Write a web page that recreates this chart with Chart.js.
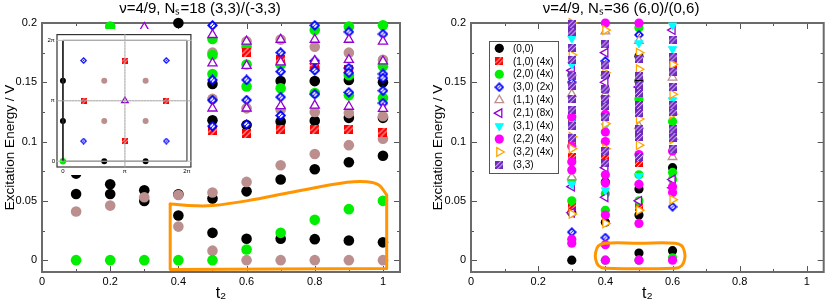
<!DOCTYPE html>
<html>
<head>
<meta charset="utf-8">
<script src="https://cdn.jsdelivr.net/npm/chart.js@4"></script>
<style>
html, body { margin: 0; padding: 0; background: #fff; }
#wrap { position: relative; width: 830px; height: 307px; }
canvas { position: absolute; }
#left { left: 0; top: 0; }
#right { left: 415px; top: 0; }
#inset { left: 47px; top: 29px; background: #fff; }
</style>
</head>
<body>
<div id="wrap">
  <canvas id="left" width="415" height="307"></canvas>
  <canvas id="right" width="415" height="307"></canvas>
  <canvas id="inset" width="149" height="146"></canvas>
</div>
<script>
// axis ticks
const xTicks = [0, 0.2, 0.4, 0.6, 0.8, 1];
const xMinorTicks = [0.1, 0.3, 0.5, 0.7, 0.9];
const yTicks = [0, 0.05, 0.1, 0.15, 0.2];
const yMinorTicks = [0.025, 0.075, 0.125, 0.175];

const leftTitle = 'ν=4/9, Nₛ=18 (3,3)/(-3,3)';
const rightTitle = 'ν=4/9, Nₛ=36 (6,0)/(0,6)';
const yTitle = 'Excitation Energy / V';
const xTitle = 't₂';

// left panel, [t2, energy]
const leftBlack = [[0.1,0.073],[0.1,0.0558],[0.2,0.064],[0.2,0.0558],[0.3,0.0589],[0.3,0.0499],
  [0.4,0.2],[0.4,0.0555],[0.4,0.0376],[0.5,0.1485],[0.5,0.118],[0.5,0.052],[0.5,0.023],
  [0.6,0.114],[0.6,0.058],[0.6,0.018],[0.7,0.151],[0.7,0.117],[0.7,0.068],[0.7,0.018],
  [0.8,0.151],[0.8,0.1175],[0.8,0.0766],[0.8,0.0177],[0.9,0.152],[0.9,0.120],[0.9,0.0825],[0.9,0.0166],
  [1.0,0.150],[1.0,0.120],[1.0,0.088],[1.0,0.015]];
const leftBrown = [[0.1,0.041],[0.2,0.046],[0.3,0.053],[0.4,0.055],[0.4,0.0283],
  [0.5,0.175],[0.5,0.136],[0.5,0.057],[0.5,0.008],[0.6,0.1845],[0.6,0.128],[0.6,0.066],[0.6,0],
  [0.7,0.186],[0.7,0.127],[0.7,0.080],[0.7,0],[0.8,0.180],[0.8,0.125],[0.8,0.0895],[0.8,0],
  [0.9,0.175],[0.9,0.124],[0.9,0.097],[0.9,0],[1.0,0.169],[1.0,0.1214],[1.0,0.1024],[1.0,0]];
const leftGreen = [[0.1,0],[0.2,0.197],[0.2,0],[0.3,0],[0.4,0],
  [0.5,0.1865],[0.5,0.173],[0.5,0.157],[0.5,0],[0.6,0.180],[0.6,0.165],[0.6,0.1465],[0.6,0.009],
  [0.7,0.165],[0.7,0.145],[0.7,0.023],[0.8,0.194],[0.8,0.162],[0.8,0.141],[0.8,0.034],
  [0.9,0.197],[0.9,0.156],[0.9,0.139],[0.9,0.043],[1.0,0.198],[1.0,0.1635],[1.0,0.1367],[1.0,0.050]];
const leftRed = [[0.5,0.109],[0.6,0.1755],[0.6,0.107],[0.7,0.169],[0.7,0.1105],
  [0.8,0.165],[0.8,0.1105],[0.9,0.161],[0.9,0.1105],[1.0,0.108]];
const leftBlue = [[0.5,0.198],[0.5,0.152],[0.5,0.135],[0.5,0.113],[0.6,0.152],[0.6,0.135],[0.6,0.1145],
  [0.7,0.175],[0.7,0.159],[0.7,0.1375],[0.7,0.122],[0.8,0.198],[0.8,0.168],[0.8,0.160],[0.8,0.140],
  [0.9,0.1925],[0.9,0.162],[0.9,0.158],[0.9,0.1415],[1.0,0.1907],[1.0,0.157],[1.0,0.1536],[1.0,0.1429],[1.0,0.1325]];
const leftPurple = [[0.3,0.196],[0.5,0.190],[0.5,0.166],[0.5,0.128],[0.6,0.1845],[0.6,0.164],[0.6,0.128],
  [0.7,0.186],[0.7,0.167],[0.7,0.130],[0.8,0.186],[0.8,0.168],[0.8,0.1305],
  [0.9,0.186],[0.9,0.169],[0.9,0.1295],[1.0,0.1845],[1.0,0.1677],[1.0,0.1277]];
// orange outline, left panel
const leftCurve = [[0.376,0.0473],[0.45,0.0458],[0.5,0.046],[0.6,0.050],[0.74,0.0577],[0.895,0.0656],
  [0.953,0.0661],[0.988,0.0633],[1.011,0.055]];
const leftEdge = [[1.011,0.055],[1.011,-0.007],[0.376,-0.0079],[0.376,0.0473]];

// inset (momentum positions, units of pi)
const insetTicks = [0, 1, 2];
const insetTickLabels = ['0', 'π', '2π'];
const insetBlack = [[0,2/3],[0,4/3],[2/3,0],[4/3,0]];
const insetBrown = [[2/3,2/3],[2/3,4/3],[4/3,2/3],[4/3,4/3]];
const insetRed = [[1/3,1],[5/3,1],[1,1/3],[1,5/3]];
const insetBlue = [[1/3,1/3],[1/3,5/3],[5/3,1/3],[5/3,5/3]];
const insetPurple = [[1,1]];
const insetGreen = [[0,0]];
const insetBox = [[0,0],[2,0],[2,2],[0,2],[0,0]];
const insetGrayH = [[[-0.1,0],[2.07,0]],[[-0.1,2],[2.07,2]]];
const insetDashed = [[[1,-0.1],[1,2.1]],[[-0.1,1],[2.07,1]]];

// right panel, [t2, energy]
const rightLabels = ['(0,0)','(1,0) (4x)','(2,0) (4x)','(3,0) (2x)','(1,1) (4x)','(2,1) (8x)','(3,1) (4x)','(2,2) (4x)','(3,2) (4x)','(3,3)'];
const r00 = [[0.3,0],[0.3,0.040],[0.4,0.032],[0.4,0.066],[0.4,0.156],[0.5,0.006],[0.5,0.038],[0.5,0.060],
  [0.5,0.151],[0.5,0.172],[0.6,0.008],[0.6,0.078]];
const r10 = [[0.3,0.045],[0.3,0.087],[0.3,0.099],[0.3,0.116],[0.3,0.193],[0.4,0.087],[0.4,0.130],
  [0.5,0.045],[0.5,0.082],[0.6,0.107],[0.6,0.165]];
const r20 = [[0.3,0.050],[0.3,0.068],[0.4,0],[0.4,0.042],[0.4,0.056],[0.5,0],[0.5,0.050],[0.5,0.072],
  [0.5,0.136],[0.5,0.196],[0.6,0.002],[0.6,0.068],[0.6,0.074],[0.6,0.117]];
const r30 = [[0.3,0.0236],[0.3,0.150],[0.4,0.019],[0.4,0.168],[0.5,0.190],[0.6,0.045]];
const r11 = [[0.3,0.070],[0.3,0.140],[0.4,0.140],[0.4,0.193],[0.5,0.113],[0.5,0.185],[0.6,0.087],[0.6,0.154]];
const r21 = [[0.3,0.040],[0.3,0.062],[0.3,0.160],[0.4,0.053],[0.4,0.078],[0.4,0.150],[0.4,0.175],
  [0.5,0.050],[0.5,0.146],[0.6,0.061],[0.6,0.068],[0.6,0.194]];
const r31 = [[0.3,0.064],[0.3,0.118],[0.3,0.165],[0.3,0.187],[0.4,0.059],[0.4,0.113],[0.5,0.071],
  [0.5,0.183],[0.6,0.135],[0.6,0.178],[0.6,0.198]];
const r22 = [[0.3,0.0143],[0.3,0.0177],[0.3,0.076],[0.3,0.083],[0.3,0.096],[0.3,0.121],[0.3,0.156],
  [0.4,0],[0.4,0.013],[0.4,0.038],[0.4,0.065],[0.4,0.072],[0.4,0.100],[0.4,0.108],[0.4,0.123],[0.4,0.144],[0.4,0.2],
  [0.5,0],[0.5,0.031],[0.5,0.064],[0.5,0.089],[0.5,0.2],[0.6,0],[0.6,0.057],[0.6,0.062],[0.6,0.092]];
const r32 = [[0.3,0.039],[0.3,0.094],[0.3,0.104],[0.3,0.173],[0.3,0.2],[0.4,0.031],[0.4,0.094],[0.4,0.115],
  [0.4,0.158],[0.4,0.194],[0.5,0.042],[0.5,0.097],[0.5,0.119],[0.5,0.161],[0.5,0.175],
  [0.6,0.051],[0.6,0.102],[0.6,0.123],[0.6,0.140],[0.6,0.165]];
const r33 = [[0.3,0.103],[0.3,0.113],[0.3,0.127],[0.3,0.136],[0.3,0.147],[0.3,0.155],[0.3,0.169],[0.3,0.179],
  [0.3,0.192],[0.3,0.199],[0.4,0.082],[0.4,0.092],[0.4,0.121],[0.4,0.130],[0.4,0.136],[0.4,0.144],[0.4,0.156],
  [0.4,0.165],[0.4,0.182],[0.5,0.087],[0.5,0.104],[0.5,0.111],[0.5,0.124],[0.5,0.131],[0.5,0.141],[0.5,0.148],
  [0.5,0.155],[0.5,0.170],[0.6,0.094],[0.6,0.103],[0.6,0.111],[0.6,0.125],[0.6,0.131],[0.6,0.146],[0.6,0.159],
  [0.6,0.171],[0.6,0.186]];
// orange rounded box, right panel
const rightOutline = [[0.5,0.0143],[0.608,0.0143],[0.6278,0.012],[0.636,0.0065],[0.636,0.001],[0.6278,-0.0045],
  [0.608,-0.0068],[0.399,-0.0068],[0.3792,-0.0045],[0.371,0.001],[0.371,0.0065],[0.3792,0.012],[0.399,0.0143],[0.5,0.0143]];

// colours
const BLACK = '#000000', RED = '#ff0000', GREEN = '#00ee00', BLUE = '#0000ff', BROWN = '#bc8f8f',
  VIOLET = '#9400d3', CYAN = '#00ffff', MAGENTA = '#ff00ff', ORANGE = '#ffa500', INDIGO = '#7029bd',
  OUTLINE = '#ff9500';

Chart.defaults.font.family = '"Liberation Sans", Arial, sans-serif';
Chart.defaults.color = '#000';

// marker images (hatched symbols)
function hatchSquare(color, s) {
  const c = document.createElement('canvas');
  c.width = c.height = s;
  const g = c.getContext('2d');
  g.fillStyle = color;
  g.fillRect(0, 0, s, s);
  g.strokeStyle = '#fff';
  g.lineWidth = Math.max(0.8, s / 9);
  g.beginPath();
  [0.72, 1.28].forEach(k => { g.moveTo(0, k * s); g.lineTo(k * s, 0); });
  g.stroke();
  return c;
}
function hatchDiamond(color, s) {
  const c = document.createElement('canvas');
  c.width = c.height = s;
  const g = c.getContext('2d');
  const h = s / 2, i = s * 0.24;
  g.fillStyle = color;
  g.beginPath(); g.moveTo(h, 0); g.lineTo(s, h); g.lineTo(h, s); g.lineTo(0, h); g.closePath(); g.fill();
  g.fillStyle = '#fff';
  g.beginPath(); g.moveTo(h, i); g.lineTo(s - i, h); g.lineTo(h, s - i); g.lineTo(i, h); g.closePath(); g.fill();
  g.strokeStyle = color; g.lineWidth = 1;
  g.beginPath(); g.moveTo(h - s * 0.13, h + s * 0.13); g.lineTo(h + s * 0.13, h - s * 0.13); g.stroke();
  return c;
}

const circle = (c, r) => ({pointStyle: 'circle', pointRadius: r, pointBackgroundColor: c, pointBorderColor: c, pointBorderWidth: 0});
const image = img => ({pointStyle: img, pointRadius: img.width / 2, pointBorderWidth: 0});
const openTri = (c, r, rot) => ({pointStyle: 'triangle', pointRadius: r, pointRotation: rot, pointBackgroundColor: '#fff', pointBorderColor: c, pointBorderWidth: 1.3});
const fullTri = (c, r, rot) => ({pointStyle: 'triangle', pointRadius: r, pointRotation: rot, pointBackgroundColor: c, pointBorderColor: c, pointBorderWidth: 1});

const toXY = a => a.map(([x, y]) => ({x, y}));
const toXYpi = a => a.map(([x, y]) => ({x: x * Math.PI, y: y * Math.PI}));

function markers(data, style, order) {
  return Object.assign({data: data, order: order, clip: false, showLine: false, pointHoverRadius: 0}, style);
}
function outline(data, tension, color, width, dash) {
  return {data: data, showLine: true, borderColor: color, borderWidth: width, borderDash: dash || [],
    pointRadius: 0, tension: tension, order: 0, clip: false, fill: false, borderJoinStyle: 'round', borderCapStyle: 'round'};
}

// frame + inward ticks
const frameTicks = {
  id: 'frameTicks',
  beforeDatasetsDraw(chart, args, opts) {
    const {ctx, chartArea: a, scales: {x, y}} = chart;
    ctx.save();
    ctx.strokeStyle = opts.tickColor || '#555';
    ctx.lineWidth = 1;
    ctx.beginPath();
    const xs = (vals, len) => vals.forEach(v => {
      const p = Math.round(x.getPixelForValue(v)) + 0.5;
      ctx.moveTo(p, a.bottom); ctx.lineTo(p, a.bottom - len);
      ctx.moveTo(p, a.top); ctx.lineTo(p, a.top + len);
    });
    const ys = (vals, len) => vals.forEach(v => {
      const p = Math.round(y.getPixelForValue(v)) + 0.5;
      ctx.moveTo(a.left, p); ctx.lineTo(a.left + len, p);
      ctx.moveTo(a.right, p); ctx.lineTo(a.right - len, p);
    });
    xs(opts.xMajor || [], 6); xs(opts.xMinor || [], 3);
    ys(opts.yMajor || [], 6); ys(opts.yMinor || [], 3);
    ctx.stroke();
    ctx.strokeStyle = opts.color;
    ctx.lineWidth = opts.width;
    ctx.strokeRect(a.left, a.top, a.right - a.left, a.bottom - a.top);
    ctx.restore();
  }
};

// legend box inside the right plot
const boxLegend = {
  id: 'boxLegend',
  afterDraw(chart, args, opts) {
    if (!opts.labels) return;
    const {ctx, chartArea: a} = chart;
    const x0 = a.left + opts.left, y0 = a.top + opts.top;
    ctx.save();
    ctx.fillStyle = '#fff';
    ctx.fillRect(x0, y0, opts.width, opts.height);
    ctx.strokeStyle = '#555';
    ctx.lineWidth = 1;
    ctx.strokeRect(x0 + 0.5, y0 + 0.5, opts.width, opts.height);
    ctx.font = '10px "Liberation Sans", Arial, sans-serif';
    ctx.textBaseline = 'middle';
    ctx.textAlign = 'left';
    opts.labels.forEach((text, i) => {
      const st = opts.styles[i];
      const cy = y0 + opts.firstRow + i * opts.rowStep;
      ctx.fillStyle = st.pointBackgroundColor || '#000';
      ctx.strokeStyle = st.pointBorderColor || '#000';
      ctx.lineWidth = st.pointBorderWidth || 0;
      Chart.helpers.drawPoint(ctx, {pointStyle: st.pointStyle, radius: st.pointRadius,
        rotation: st.pointRotation || 0, borderWidth: st.pointBorderWidth || 0}, x0 + opts.markerX, cy);
      ctx.fillStyle = '#000';
      ctx.fillText(text, x0 + opts.textX, cy + 0.5);
    });
    ctx.restore();
  }
};

function mainScales(yWidth, yTitlePad) {
  return {
    x: {
      type: 'linear', min: 0, max: 1.05,
      grid: {display: false, drawTicks: false}, border: {display: false},
      afterBuildTicks: s => { s.ticks = xTicks.map(v => ({value: v})); },
      ticks: {font: {size: 11}, padding: 3, autoSkip: false, maxRotation: 0, callback: v => String(v)},
      title: {display: true, text: xTitle, font: {size: 16}, padding: {top: 0, bottom: 4}},
      afterFit: s => { s.height = 35; }
    },
    y: {
      type: 'linear', min: -0.01, max: 0.2,
      grid: {display: false, drawTicks: false}, border: {display: false},
      afterBuildTicks: s => { s.ticks = yTicks.map(v => ({value: v})); },
      ticks: {font: {size: 11}, padding: 5, autoSkip: false, callback: v => String(v)},
      title: {display: true, text: yTitle, font: {size: 13.5}, padding: {top: yTitlePad, bottom: 0}},
      afterFit: s => { s.width = yWidth; }
    }
  };
}
function mainPlugins(title, legendOpts) {
  return {
    legend: {display: false}, tooltip: {enabled: false},
    title: {display: true, text: title, font: {size: 15, weight: 'normal'}, padding: {top: 0, bottom: 5}},
    frameTicks: {color: '#6a6a6a', width: 2, xMajor: xTicks, xMinor: xMinorTicks, yMajor: yTicks, yMinor: yMinorTicks},
    boxLegend: legendOpts || {}
  };
}

// left panel
const L = {
  black: circle(BLACK, 5.3), brown: circle(BROWN, 5.3), green: circle(GREEN, 5.3),
  red: image(hatchSquare(RED, 9)), blue: image(hatchDiamond(BLUE, 11)), purple: openTri(VIOLET, 5.3, 0)
};
new Chart(document.getElementById('left'), {
  type: 'scatter',
  data: {datasets: [
    outline(toXY(leftCurve), 0.4, OUTLINE, 3),
    outline(toXY(leftEdge), 0, OUTLINE, 3),
    markers(toXY(leftPurple), L.purple, 1),
    markers(toXY(leftBlue), L.blue, 2),
    markers(toXY(leftRed), L.red, 3),
    markers(toXY(leftGreen), L.green, 4),
    markers(toXY(leftBrown), L.brown, 5),
    markers(toXY(leftBlack), L.black, 6)
  ]},
  options: {
    animation: false, responsive: false, events: [],
    layout: {padding: {left: 0, right: 15, top: 0, bottom: 0}},
    plugins: mainPlugins(leftTitle),
    scales: mainScales(42, 2.2)
  },
  plugins: [frameTicks, boxLegend]
});

// right panel
const rightStyles = [
  circle(BLACK, 4.6), image(hatchSquare(RED, 8)), circle(GREEN, 4.6), image(hatchDiamond(BLUE, 10)),
  openTri(BROWN, 5, 0), openTri(VIOLET, 5, -90), fullTri(CYAN, 4.8, 180), circle(MAGENTA, 4.6),
  openTri(ORANGE, 5, 90), image(hatchSquare(INDIGO, 8))
];
const rightData = [r00, r10, r20, r30, r11, r21, r31, r22, r32, r33];
new Chart(document.getElementById('right'), {
  type: 'scatter',
  data: {datasets: [outline(toXY(rightOutline), 0.4, OUTLINE, 3)].concat(
    rightData.map((d, i) => markers(toXY(d), rightStyles[i], rightData.length - i)))},
  options: {
    animation: false, responsive: false, events: [],
    layout: {padding: {left: 0, right: 3, top: 0, bottom: 0}},
    plugins: mainPlugins(rightTitle, {labels: rightLabels, styles: rightStyles, left: 18, top: 18,
      width: 69, height: 132, firstRow: 7.3, rowStep: 12.97, markerX: 10.3, textX: 24}),
    scales: mainScales(56, 14.7)
  },
  plugins: [frameTicks, boxLegend]
});

// inset: momentum-space positions
const I = {
  black: circle(BLACK, 3), brown: circle(BROWN, 3), green: circle(GREEN, 3.2),
  red: image(hatchSquare(RED, 6)), blue: image(hatchDiamond(BLUE, 7)), purple: openTri(VIOLET, 3.8, 0)
};
const insetAxis = (min, max, pad, fit) => ({
  type: 'linear', min: min, max: max,
  grid: {display: false, drawTicks: false}, border: {display: false},
  afterBuildTicks: s => { s.ticks = insetTicks.map(v => ({value: v * Math.PI})); },
  ticks: {font: {size: 6}, padding: pad, autoSkip: false, maxRotation: 0, callback: (v, i) => insetTickLabels[i]},
  afterFit: fit
});
new Chart(document.getElementById('inset'), {
  type: 'scatter',
  data: {datasets: [
    outline(toXYpi(insetGrayH[0]), 0, '#bdbdbd', 1),
    outline(toXYpi(insetGrayH[1]), 0, '#bdbdbd', 1),
    outline(toXYpi(insetDashed[0]), 0, '#a0a0a0', 1, [2, 1]),
    outline(toXYpi(insetDashed[1]), 0, '#a0a0a0', 1, [2, 1]),
    outline(toXYpi(insetBox), 0, '#222', 1),
    markers(toXYpi(insetPurple), I.purple, 1),
    markers(toXYpi(insetBlue), I.blue, 1),
    markers(toXYpi(insetRed), I.red, 1),
    markers(toXYpi(insetBrown), I.brown, 1),
    markers(toXYpi(insetBlack), I.black, 1),
    markers(toXYpi(insetGreen), I.green, 1)
  ]},
  options: {
    animation: false, responsive: false, events: [],
    layout: {padding: {left: 0, right: 3, top: 1, bottom: 0}},
    plugins: {legend: {display: false}, tooltip: {enabled: false},
      frameTicks: {color: '#333', width: 1.2, tickColor: '#333'}},
    scales: {
      x: insetAxis(-0.3, 2 * Math.PI + 0.2, 1, s => { s.height = 8; }),
      y: insetAxis(-0.3, 2 * Math.PI + 0.3, 2, s => { s.width = 10; })
    }
  },
  plugins: [frameTicks]
});
</script>
</body>
</html>
